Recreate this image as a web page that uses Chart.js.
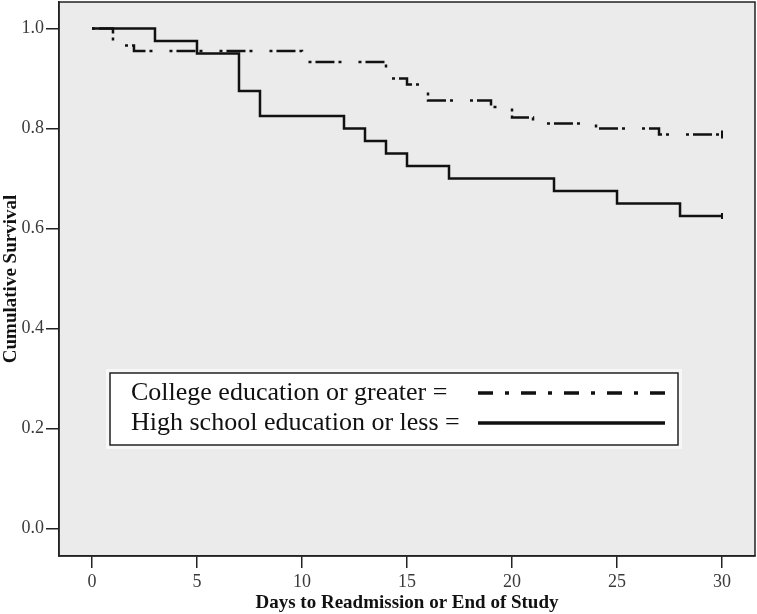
<!DOCTYPE html>
<html>
<head>
<meta charset="utf-8">
<title>Cumulative Survival</title>
<script src="https://cdn.jsdelivr.net/npm/chart.js@4.4.1/dist/chart.umd.min.js"></script>
<style>
  html, body { margin: 0; padding: 0; background: #ffffff; }
  #wrap { width: 757px; height: 614px; }
</style>
</head>
<body>
<div id="wrap"><canvas id="kmChart" width="757" height="614"></canvas></div>
<script>
// ============ DATA ============

// Kaplan-Meier steps
const hsDays = [0, 3, 5, 7, 8, 12, 13, 14, 15, 17, 22, 25, 28, 30];
const hsSurvival = [1.0, 0.975, 0.95, 0.875, 0.825, 0.8, 0.775, 0.75, 0.725, 0.7, 0.675, 0.65, 0.625, 0.625];

const colDays = [0, 1, 2, 10, 14, 15, 16, 19, 20, 21, 24, 27, 30];
const colSurvival = [1.0, 0.966, 0.955, 0.933, 0.9, 0.888, 0.856, 0.843, 0.822, 0.81, 0.8, 0.788, 0.788];

const xTicks = [0, 5, 10, 15, 20, 25, 30];
const yTicks = [0.0, 0.2, 0.4, 0.6, 0.8, 1.0];

const seriesLabels = ["College education or greater", "High school education or less"];

// ============ HELPERS ============

const SERIF = '"Liberation Serif", "Times New Roman", "DejaVu Serif", serif';
const INK = "#111111";

function toPoints(days, vals) {
    return days.map((d, i) => ({ x: d, y: vals[i] }));
}

// censor tick only on the last point
function lastOnly(size) {
    return ctx => ctx.dataIndex === ctx.dataset.data.length - 1 ? size : 0;
}

// ============ PLUGINS ============

const plotFrame = {
    id: "plotFrame",
    beforeDraw(chart) {
        const { ctx, chartArea: a } = chart;
        ctx.save();
        ctx.fillStyle = "#ebebeb";
        ctx.fillRect(a.left, a.top, a.right - a.left, a.bottom - a.top);
        ctx.restore();
    },
    afterDraw(chart) {
        const { ctx, chartArea: a } = chart;
        ctx.save();
        ctx.strokeStyle = "#222";
        ctx.lineWidth = 1.5;
        ctx.strokeRect(a.left, a.top, a.right - a.left, a.bottom - a.top);
        ctx.restore();
    }
};

const keyBox = {
    id: "keyBox",
    afterDraw(chart) {
        const ctx = chart.ctx;
        const box = { x: 110, y: 373, w: 568, h: 72 };
        ctx.save();
        ctx.fillStyle = "#f7f7f7";
        ctx.fillRect(box.x - 4, box.y - 4, box.w + 8, box.h + 8);
        ctx.fillStyle = "#ffffff";
        ctx.fillRect(box.x, box.y, box.w, box.h);
        ctx.strokeStyle = "#222";
        ctx.lineWidth = 1.5;
        ctx.strokeRect(box.x, box.y, box.w, box.h);

        ctx.font = "26px " + SERIF;
        ctx.fillStyle = INK;
        ctx.textBaseline = "middle";
        const rows = [
            { text: seriesLabels[0] + " =", y: 393, dash: [15, 12, 4, 12] },
            { text: seriesLabels[1] + " =", y: 423, dash: [] }
        ];
        rows.forEach(r => {
            ctx.fillText(r.text, 131, r.y);
            ctx.beginPath();
            ctx.setLineDash(r.dash);
            ctx.lineWidth = 3.5;
            ctx.strokeStyle = INK;
            ctx.moveTo(478, r.y);
            ctx.lineTo(665, r.y);
            ctx.stroke();
        });
        ctx.restore();
    }
};

// ============ CHART ============

const tickFont = { family: SERIF, size: 18 };
const titleFont = { family: SERIF, size: 19, weight: "bold" };

new Chart(document.getElementById("kmChart"), {
    type: "line",
    data: {
        datasets: [
            {
                label: seriesLabels[0],
                data: toPoints(colDays, colSurvival),
                stepped: true,
                borderColor: INK,
                borderWidth: 2.5,
                borderDash: [3, 4, 19, 4, 3, 17],
                pointStyle: "line",
                rotation: 90,
                pointRadius: lastOnly(4),
                pointBorderWidth: 2,
                pointBorderColor: INK,
                fill: false
            },
            {
                label: seriesLabels[1],
                data: toPoints(hsDays, hsSurvival),
                stepped: true,
                borderColor: INK,
                borderWidth: 2.5,
                pointStyle: "line",
                rotation: 90,
                pointRadius: lastOnly(3),
                pointBorderWidth: 2,
                pointBorderColor: INK,
                fill: false
            }
        ]
    },
    options: {
        responsive: false,
        animation: false,
        layout: { autoPadding: false, padding: { top: 2, right: 2, left: 0, bottom: 0 } },
        plugins: {
            legend: { display: false },
            tooltip: { enabled: false }
        },
        scales: {
            x: {
                type: "linear",
                min: -1.57,
                max: 31.57,
                afterBuildTicks: s => { s.ticks = xTicks.map(v => ({ value: v })); },
                afterFit: s => { s.height = 58; s.paddingLeft = 0; s.paddingRight = 0; },
                ticks: { font: tickFont, color: "#3a3a3a", padding: 3, maxRotation: 0, callback: v => String(v) },
                grid: { drawOnChartArea: false, drawTicks: true, tickLength: 12, color: "#222", lineWidth: 1.5 },
                border: { display: true, color: "#222", width: 1.5 },
                title: { display: true, text: "Days to Readmission or End of Study", font: titleFont, color: INK, padding: 0 }
            },
            y: {
                type: "linear",
                min: -0.055,
                max: 1.053,
                afterBuildTicks: s => { s.ticks = yTicks.map(v => ({ value: v })); },
                afterFit: s => { s.width = 59; s.paddingTop = 0; s.paddingBottom = 0; },
                ticks: { font: tickFont, color: "#3a3a3a", padding: 2, callback: v => v.toFixed(1) },
                grid: { drawOnChartArea: false, drawTicks: true, tickLength: 13, color: "#222", lineWidth: 1.5 },
                border: { display: true, color: "#222", width: 1.5 },
                title: { display: true, text: "Cumulative Survival", font: titleFont, color: INK, padding: 0 }
            }
        }
    },
    plugins: [plotFrame, keyBox]
});
</script>
</body>
</html>
